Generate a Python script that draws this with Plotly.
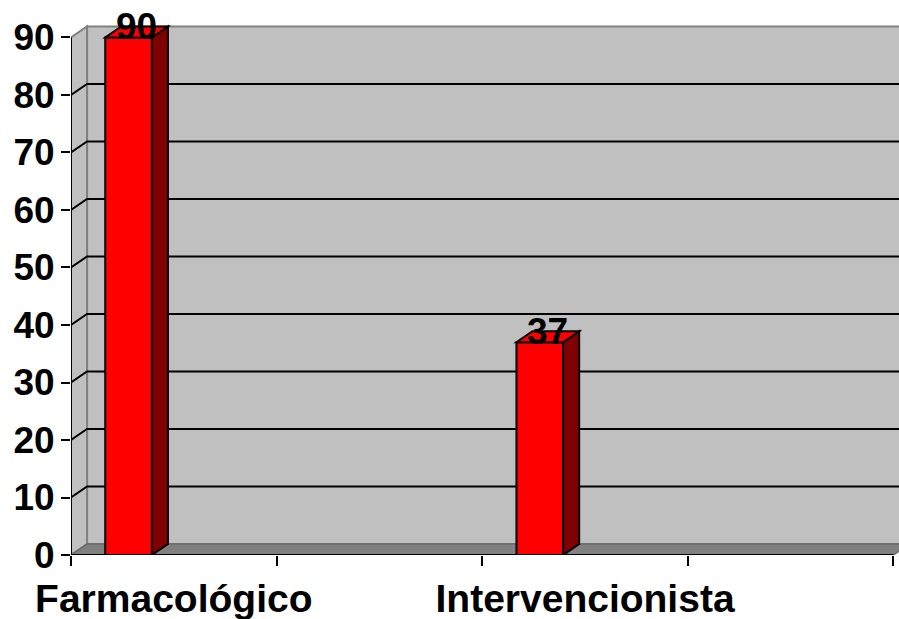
import plotly.graph_objects as go

# ---- data ----
categories = ["Farmacológico", "Intervencionista"]
values = [90, 37]
y_ticks = [0, 10, 20, 30, 40, 50, 60, 70, 80, 90]

# ---- geometry of the pseudo-3D box (data units) ----
N_SLOTS = 4            # category slots along the x axis
X_MAX = 4.027          # right end of the visible plot area
Y_MAX = 96.52          # top of the visible plot area
DX, DY = 0.078, 1.91   # depth offset of the back wall
BAR_W = 0.227
BAR_SHIFT = 0.28       # bar centre inside its slot
WALL = "#C0C0C0"
FLOOR = "#808080"
EDGE = "#808080"
FONT = "Liberation Sans, Arial, sans-serif"

label_x = [2 * i + 0.5 for i in range(len(categories))]
bar_x = [2 * i + BAR_SHIFT for i in range(len(categories))]
top = y_ticks[-1]


def poly(pts, close=True):
    s = "M " + " L ".join(f"{x},{y}" for x, y in pts)
    return s + (" Z" if close else "")


shapes = []
# back wall
shapes.append(dict(type="path", layer="below",
                   path=poly([(DX, DY), (N_SLOTS + DX, DY),
                              (N_SLOTS + DX, top + DY), (DX, top + DY)]),
                   fillcolor=WALL, line=dict(color=EDGE, width=2)))
# left side wall
shapes.append(dict(type="path", layer="below",
                   path=poly([(0, 0), (DX, DY), (DX, top + DY), (0, top)]),
                   fillcolor=WALL, line=dict(color=EDGE, width=2)))
# gridlines running over the side wall and across the back wall
for v in y_ticks[1:-1]:
    shapes.append(dict(type="path", layer="below",
                       path=poly([(0, v), (DX, v + DY), (N_SLOTS + DX, v + DY)],
                                 close=False),
                       line=dict(color="black", width=2)))
# floor
shapes.append(dict(type="path", layer="below",
                   path=poly([(0, 0), (N_SLOTS, 0), (N_SLOTS + DX, DY), (DX, DY)]),
                   fillcolor=FLOOR, line=dict(color="#6a6a6a", width=1.5)))

# side and top faces of every bar
for xc, v in zip(bar_x, values):
    x0, x1 = xc - BAR_W / 2, xc + BAR_W / 2
    shapes.append(dict(type="path", layer="above",
                       path=poly([(x1, 0), (x1 + DX, DY), (x1 + DX, v + DY), (x1, v)]),
                       fillcolor="#800000", line=dict(color="black", width=2)))
    shapes.append(dict(type="path", layer="above",
                       path=poly([(x0, v), (x1, v), (x1 + DX, v + DY), (x0 + DX, v + DY)]),
                       fillcolor="#FF0000", line=dict(color="black", width=2)))

# front axis lines
shapes.append(dict(type="line", layer="above", x0=0, x1=0, y0=0, y1=top,
                   line=dict(color="black", width=2)))
shapes.append(dict(type="line", layer="above", x0=0, x1=N_SLOTS, y0=0, y1=0,
                   line=dict(color="black", width=2)))

# value labels sitting on the bar tops
annotations = [
    dict(x=xc + DX / 2, y=v + DY, text=str(v), showarrow=False,
         xanchor="center", yanchor="middle",
         font=dict(family=FONT, size=37, color="black", weight="bold"))
    for xc, v in zip(bar_x, values)
]

fig = go.Figure()
fig.add_bar(x=bar_x, y=values, width=BAR_W,
            marker=dict(color="#FF0000", line=dict(color="black", width=2)),
            hoverinfo="skip", showlegend=False)

fig.update_layout(
    width=899, height=619,
    margin=dict(l=71, r=0, t=0, b=64),
    paper_bgcolor="white", plot_bgcolor="white",
    shapes=shapes, annotations=annotations,
    showlegend=False,
    xaxis=dict(range=[0, X_MAX], tickmode="array", tickvals=label_x,
               ticktext=categories, ticks="", showgrid=False, zeroline=False,
               showline=False, automargin=False,
               tickfont=dict(family=FONT, size=39, color="black", weight="bold"),
               ticklabelstandoff=17,
               minor=dict(tickmode="array", tickvals=list(range(N_SLOTS + 1)),
                          ticks="outside", ticklen=10, tickwidth=2,
                          tickcolor="black", showgrid=False)),
    yaxis=dict(range=[0, Y_MAX], tickmode="array", tickvals=y_ticks,
               ticks="outside", ticklen=9, tickwidth=2, tickcolor="black",
               showgrid=False, zeroline=False, showline=False, automargin=False,
               tickfont=dict(family=FONT, size=37, color="black", weight="bold"),
               ticklabelstandoff=-1),
)

fig.write_html("out.html")
